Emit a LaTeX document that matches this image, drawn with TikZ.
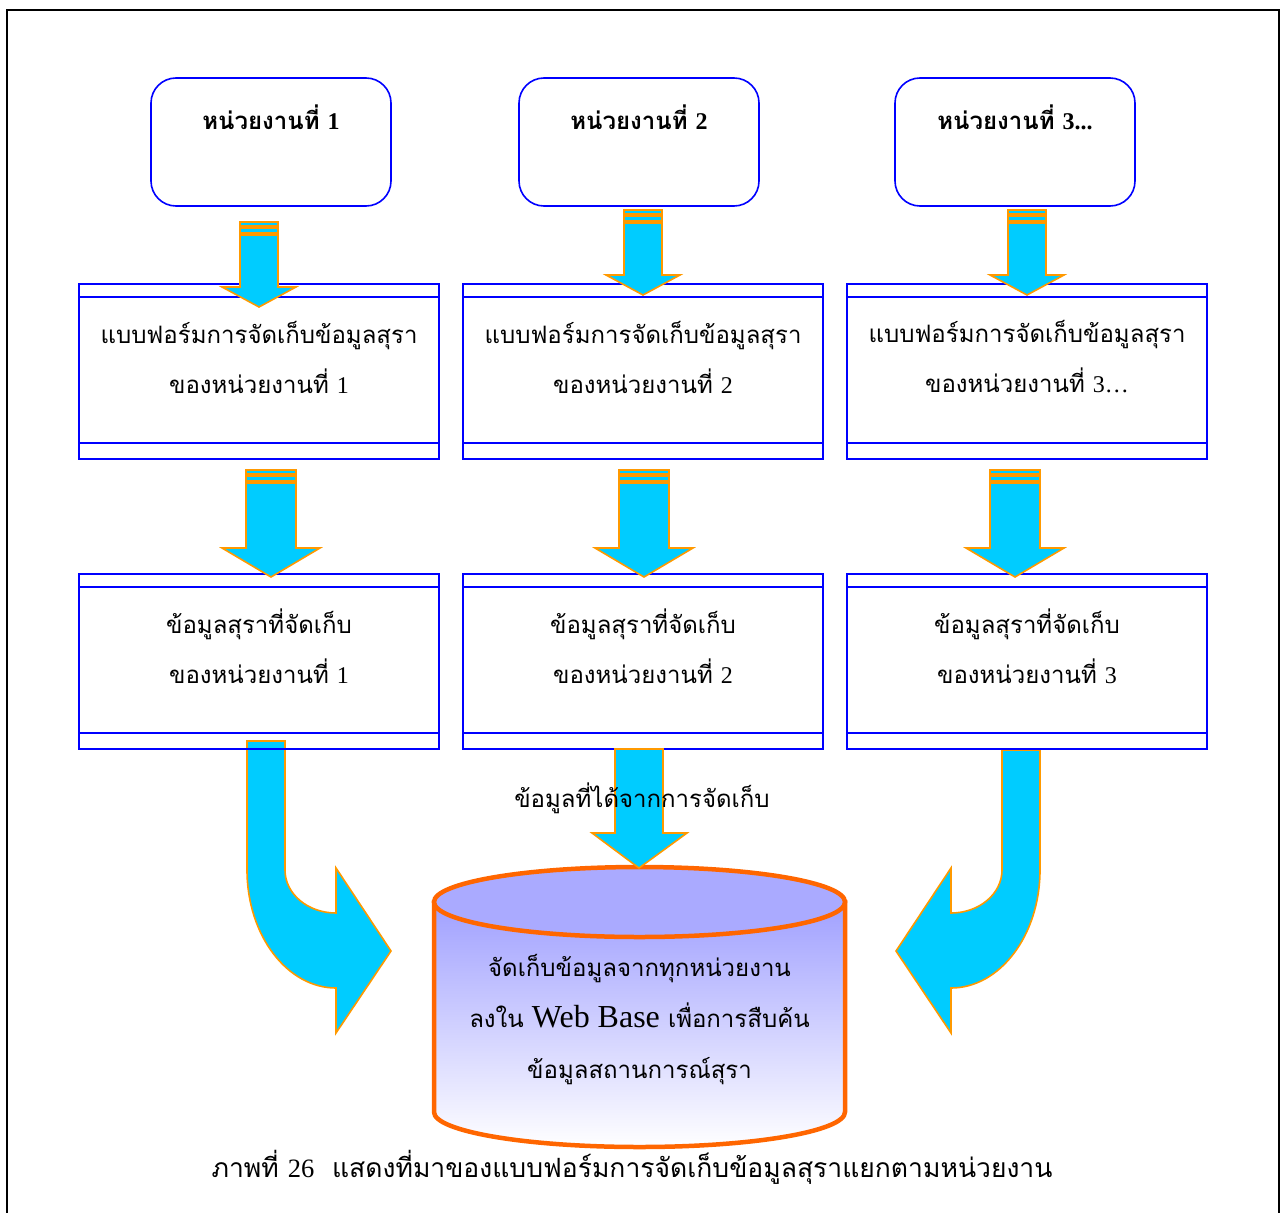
\documentclass[tikz,border=0pt]{standalone}
\usepackage{fontspec}
\setmainfont{Liberation Serif}
\newfontfamily\thai[Script=Thai]{Loma}
\newfontfamily\latin{Liberation Serif}
\usetikzlibrary{positioning}

\definecolor{unitblue}{RGB}{0,0,255}
\definecolor{arrowcyan}{RGB}{0,204,255}
\definecolor{arroworange}{RGB}{255,153,0}
\definecolor{cylorange}{RGB}{255,102,0}
\definecolor{cyltop}{RGB}{170,170,255}
\definecolor{cylside}{RGB}{160,160,255}

\tikzstyle{frame}=[draw=black, line width=2pt]
\tikzstyle{unit}=[draw=unitblue, line width=1.6pt, rounded corners=25pt, minimum width=240pt, minimum height=128pt]
\tikzstyle{unitlabel}=[font=\thai\bfseries\fontsize{24}{30}\selectfont]
\tikzstyle{form}=[draw=unitblue, line width=1.4pt, minimum width=360pt, minimum height=175pt, inner sep=0pt,
    path picture={\draw[unitblue, line width=1.4pt]
        ([yshift=-13pt]path picture bounding box.north west) -- ([yshift=-13pt]path picture bounding box.north east)
        ([yshift=16pt]path picture bounding box.south west) -- ([yshift=16pt]path picture bounding box.south east);}]
\tikzstyle{formlabel}=[font=\thai\fontsize{24}{50}\selectfont, align=center]
\tikzstyle{arrowbody}=[draw=arroworange, fill=arrowcyan, line width=1.6pt, line join=miter]
\tikzstyle{cylbody}=[draw=cylorange, line width=4.5pt, top color=cylside, bottom color=white]
\tikzstyle{cyltopface}=[draw=cylorange, line width=4.5pt, fill=cyltop]
\tikzstyle{storelabel}=[font=\thai\fontsize{24}{51}\selectfont, align=center]
\newcommand{\unitthree}{3...}
\newcommand{\formthree}{3…}
% x, top, tip, shaft half width, head half width, head length
\newcommand{\blockarrow}[6]{%
    \path[arrowbody] (#1-#4,#2) rectangle (#1+#4,#2+4)
        (#1-#4,#2+6) rectangle (#1+#4,#2+11)
        (#1-#4,#2+13) -- (#1-#4,#3-#6) -- (#1-#5,#3-#6) -- (#1,#3)
        -- (#1+#5,#3-#6) -- (#1+#4,#3-#6) -- (#1+#4,#2+13) -- cycle;}

\begin{document}
\begin{tikzpicture}[x=1pt, y=-1pt]
    \useasboundingbox (0,0) rectangle (1281,1212);
    \draw[frame] (7,1240) -- (7,10) -- (1279,10) -- (1279,1240);
    % curved arrows go under the boxes
    \path[arrowbody] (247,741) -- (285,741) -- (285,870) .. controls (285,894) and (308,913) .. (336,913)
        -- (336,868) -- (391,951) -- (336,1033) -- (336,988)
        .. controls (287,988) and (247,935) .. (247,870) -- cycle;
    \path[arrowbody] (1002,750) -- (1040,750) -- (1040,870) .. controls (1040,935) and (1000,988) .. (951,988)
        -- (951,1033) -- (896,951) -- (951,868) -- (951,913)
        .. controls (979,913) and (1002,894) .. (1002,870) -- cycle;
    % units
    \foreach \x/\i/\num in {271/1/1, 639/2/2, 1015/3/\unitthree} {
        \node[unit] (unit\i) at (\x,142) {};
        \node[unitlabel] (unit\i label) at (\x,117) {หน่วยงานที่ {\latin\bfseries\num}};
    }
    % forms and stored data
    \foreach \x/\i/\num in {259/1/1, 643/2/2, 1027/3/\formthree} {
        \node[form] (form\i) at (\x,371.5) {};
        \node[formlabel] (form\i label) at (\x,357) {แบบฟอร์มการจัดเก็บข้อมูลสุรา\\ของหน่วยงานที่ {\latin\num}};
    }
    \foreach \x/\i in {259/1, 643/2, 1027/3} {
        \node[form] (data\i) at (\x,661.5) {};
        \node[formlabel] (data\i label) at (\x,646) {ข้อมูลสุราที่จัดเก็บ\\ของหน่วยงานที่ {\latin\i}};
    }
    % straight arrows
    \foreach \x/\top/\tip in {259/222/307, 643/210/295, 1027/210/295}
        \blockarrow{\x}{\top}{\tip}{19}{37}{20};
    \foreach \x in {271, 644, 1015}
        \blockarrow{\x}{470}{577}{25}{49}{29};
    % the store
    \path[cylbody] (434,902) -- (434,1112) arc[start angle=180, end angle=360, x radius=205.5pt, y radius=35pt]
        -- (845,902) -- cycle;
    \path[cyltopface] (639.5,902) ellipse [x radius=205.5pt, y radius=35pt];
    \path[arrowbody] (615,749) -- (663,749) -- (663,833) -- (687,833) -- (639,868) -- (592,833) -- (615,833) -- cycle;
    \node[formlabel] (flow) at (642,798) {ข้อมูลที่ได้จากการจัดเก็บ};
    \node[storelabel] (store) at (639.5,1020) {จัดเก็บข้อมูลจากทุกหน่วยงาน\\ลงใน {\latin\fontsize{32}{51}\selectfont Web Base} เพื่อการสืบค้น\\ข้อมูลสถานการณ์สุรา};
    \node[font=\thai\fontsize{26.5}{30}\selectfont] (caption) at (632,1167) {ภาพที่ {\latin 26}\ \ แสดงที่มาของแบบฟอร์มการจัดเก็บข้อมูลสุราแยกตามหน่วยงาน};
\end{tikzpicture}
\end{document}
